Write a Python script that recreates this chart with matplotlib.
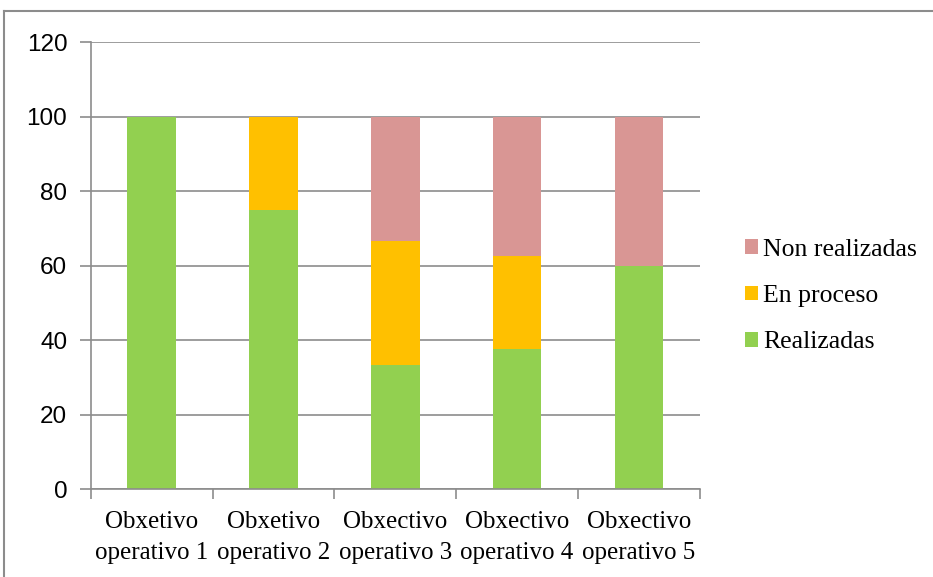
import numpy as np
import matplotlib.pyplot as plt
from matplotlib.lines import Line2D

# data
categories = ['Obxetivo\noperativo 1', 'Obxetivo\noperativo 2', 'Obxectivo\noperativo 3',
              'Obxectivo\noperativo 4', 'Obxectivo\noperativo 5']
realizadas = [100, 75, 33.3, 37.5, 60]
en_proceso = [0, 25, 33.3, 25, 0]
non_realizadas = [0, 0, 33.4, 37.5, 40]

fig = plt.figure(figsize=(9.33, 5.77), dpi=100)
ax = fig.add_axes([0.0975, 0.1525, 0.6525, 0.7745])

x = np.arange(len(categories))
w = 0.40
bottom2 = np.array(realizadas)
bottom3 = bottom2 + np.array(en_proceso)
ax.bar(x, realizadas, w, color='#92D050', label='Realizadas', zorder=2)
ax.bar(x, en_proceso, w, bottom=bottom2, color='#FFC000', label='En proceso', zorder=2)
ax.bar(x, non_realizadas, w, bottom=bottom3, color='#D99694', label='Non realizadas', zorder=2)

ax.set_xlim(-0.5, len(categories) - 0.5)
ax.set_ylim(0, 120)
ax.set_yticks(range(0, 121, 20))
ax.yaxis.grid(True, color='#8c8c8c', linewidth=1.2, zorder=0)

for s in ['top', 'right']:
    ax.spines[s].set_visible(False)
for s in ['left', 'bottom']:
    ax.spines[s].set_color('#8c8c8c')
    ax.spines[s].set_linewidth(1.2)

ax.set_xticks(x)
ax.set_xticklabels(categories, fontfamily='Liberation Serif', fontsize=18, linespacing=1.5)
ax.tick_params(axis='x', length=0, pad=16)
ax.set_xticks(np.arange(-0.5, len(categories)), minor=True)
ax.tick_params(axis='x', which='minor', length=7, color='#8c8c8c', width=1.2)
ax.set_yticklabels([str(v) for v in range(0, 121, 20)], fontfamily='Liberation Sans', fontsize=17.5)
ax.tick_params(axis='y', length=8, color='#8c8c8c', width=1.2, pad=9)

handles, labels = ax.get_legend_handles_labels()
ax.legend(handles[::-1], labels[::-1], loc='center left', bbox_to_anchor=(1.074, 0.432),
          frameon=False, prop={'family': 'Liberation Serif', 'size': 18.5},
          borderpad=0, borderaxespad=0,
          handlelength=0.5, handleheight=0.5, handletextpad=0.2, labelspacing=0.95)

# outer frame (top and left only)
fig.add_artist(Line2D([0.0043, 1.0], [0.981, 0.981], color='#8c8c8c', linewidth=1.5))
fig.add_artist(Line2D([0.0043, 0.0043], [0.0, 0.981], color='#8c8c8c', linewidth=1.5))

plt.savefig('out.png', dpi=100)
